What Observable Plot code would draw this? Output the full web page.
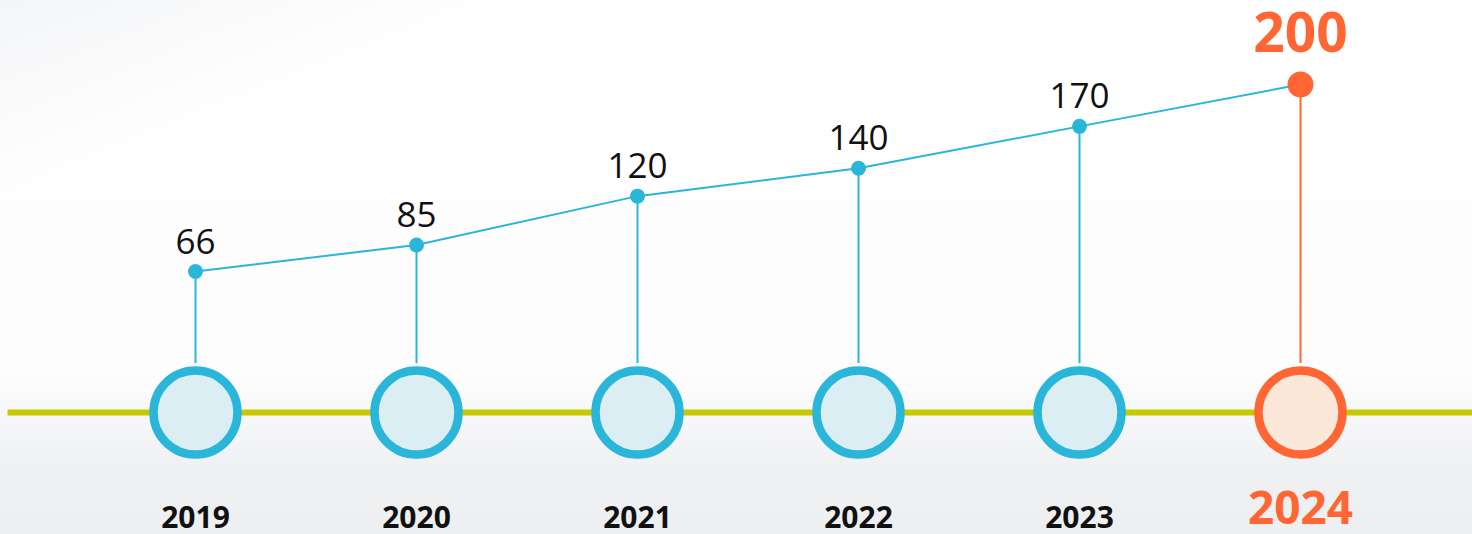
<!DOCTYPE html>
<html>
<head>
<meta charset="utf-8">
<script src="https://cdn.jsdelivr.net/npm/d3@7"></script>
<script src="https://cdn.jsdelivr.net/npm/@observablehq/plot@0.6"></script>
<style>
  html, body { margin: 0; padding: 0; }
  body {
    width: 1472px; height: 534px; overflow: hidden;
    font-family: "Open Sans", sans-serif;
    background:
      linear-gradient(160deg, rgba(235,237,240,0.55) 0%, rgba(255,255,255,0) 18%),
      linear-gradient(180deg, #ffffff 0%, #fdfdfe 70%, #eff0f2 88%, #eeeff1 100%);
  }
  #chart svg { display: block; }
</style>
</head>
<body>
<div id="chart"></div>
<script>
// ---- data ----
const years = ["2019", "2020", "2021", "2022", "2023", "2024"];
const values = [66, 85, 120, 140, 170, 200];
const highlightYear = "2024";

const data = years.map((year, i) => ({ year, value: values[i], hi: year === highlightYear }));
const normal = data.filter(d => !d.hi);
const highlighted = data.filter(d => d.hi);

const BLUE = "#29b6d9", BLUE_FILL = "#dbeef4";
const ORANGE = "#ff6633", ORANGE_FILL = "#fbe8d8";
const LINE_YELLOW = "#c8c800";

const chart = Plot.plot({
  width: 1472,
  height: 534,
  marginLeft: 193,
  marginRight: 170,
  marginTop: 0,
  marginBottom: 122,
  style: { background: "transparent", fontFamily: "'Open Sans', sans-serif" },
  x: { type: "point", domain: years, padding: 0, axis: null },
  y: { domain: [66, 200], range: [271, 84], axis: null },
  marks: [
    // timeline
    Plot.frame({ anchor: "bottom", stroke: LINE_YELLOW, strokeWidth: 6, strokeOpacity: 1, insetLeft: -183, insetRight: -170 }),
    // connecting line
    Plot.line(data, { x: "year", y: "value", stroke: BLUE, strokeWidth: 2 }),
    // stems
    Plot.ruleX(data, { x: "year", y1: "value", stroke: d => d.hi ? ORANGE : BLUE, strokeWidth: 2 }),
    // value points
    Plot.dot(normal, { x: "year", y: "value", r: 7.5, fill: BLUE, stroke: null }),
    Plot.dot(highlighted, { x: "year", y: "value", r: 13, fill: ORANGE, stroke: null }),
    // big timeline circles
    Plot.dot(data, {
      x: "year", frameAnchor: "bottom", r: 42,
      fill: d => d.hi ? ORANGE_FILL : BLUE_FILL,
      stroke: d => d.hi ? ORANGE : BLUE, strokeWidth: 8.5
    }),
    // value labels
    Plot.text(normal, { x: "year", y: "value", text: d => String(d.value), dy: -18, lineAnchor: "bottom", fontSize: 35, fill: "#111" }),
    Plot.text(highlighted, { x: "year", y: "value", text: d => String(d.value), dy: -33, lineAnchor: "bottom", fontSize: 55, fontWeight: "bold", fill: ORANGE }),
    // year labels
    Plot.text(normal, { x: "year", frameAnchor: "bottom", text: "year", dy: 115, lineAnchor: "bottom", fontSize: 30, fontWeight: "bold", fill: "#111" }),
    Plot.text(highlighted, { x: "year", frameAnchor: "bottom", text: "year", dy: 111, lineAnchor: "bottom", fontSize: 46, fontWeight: "bold", fill: ORANGE })
  ]
});
document.getElementById("chart").appendChild(chart);
</script>
</body>
</html>
